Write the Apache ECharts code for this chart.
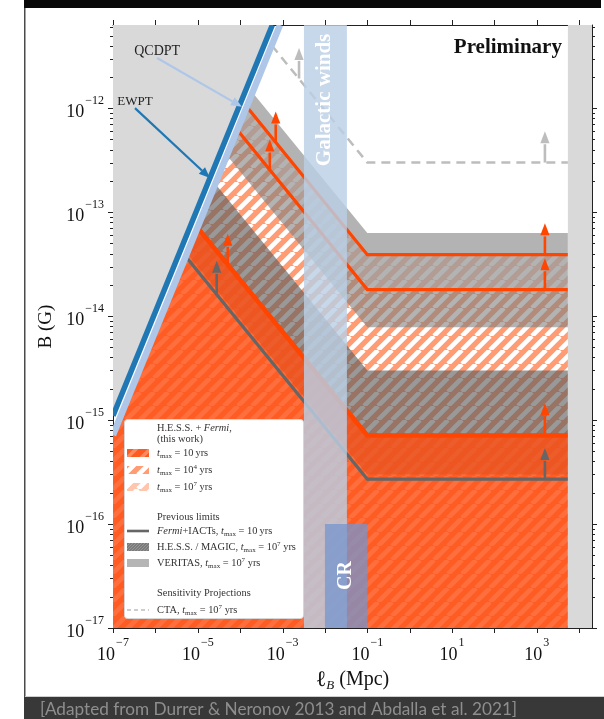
<!DOCTYPE html>
<html>
<head>
<meta charset="utf-8">
<script src="https://cdn.jsdelivr.net/npm/echarts@6/dist/echarts.min.js"></script>
<style>
  html, body { margin: 0; padding: 0; background: #fff; }
  #chart { width: 604px; height: 719px; }
</style>
</head>
<body>
<div id="chart"></div>
<script>
// ---- axis ranges: coherence length ℓ_B (Mpc) and field strength B (G) ----
const lRange = [1e-7, 2.0e4];
const bRange = [1e-17, 6.31e-12];
const xLabelExponents = [-7, -5, -3, -1, 1, 3];
const xTickExponents = [-7, -6, -5, -4, -3, -2, -1, 0, 1, 2, 3, 4];
const yTickExponents = [-17, -16, -15, -14, -13, -12];

// ---- phase-transition bounds (B ∝ ℓ) ----
const ewpt = [[1e-7, 1.1e-15], [5.75e-4, 6.31e-12]];
const qcdpt = [[1e-7, 7.2e-16], [8.7e-4, 6.31e-12]];

// ---- lower limits, [ℓ, B] vertices: start on QCDPT bound, knee at 0.1 Mpc, end at Hubble band ----
const hfTmax1e7 = [[1.43e-4, 1.03e-12], [0.1, 3.9e-14], [5.4e3, 3.9e-14]];
const hfTmax1e4 = [[8.5e-5, 6.2e-13], [0.1, 1.8e-14], [5.4e3, 1.8e-14]];
const hfTmax10 = [[9.9e-6, 7.1e-14], [0.1, 7.1e-16], [5.4e3, 7.1e-16]];
const fermiIacts = [[5.2e-6, 3.75e-14], [0.1, 2.7e-16], [5.4e3, 2.7e-16]];
const ctaProjection = [[5.6e-4, 4.0e-12], [0.1, 3.0e-13], [5.4e3, 3.0e-13]];

// ---- previous exclusion bands ----
const veritasUpper = [[2.0e-4, 1.4e-12], [0.1, 6.3e-14], [5.4e3, 6.3e-14]];
const veritasLower = [[4.9e-5, 3.5e-13], [0.1, 7.8e-15], [5.4e3, 7.8e-15]];
const hessMagicUpper = [[2.6e-5, 1.87e-13], [0.1, 3.0e-15], [5.4e3, 3.0e-15]];
const hessMagicLower = [[5.6e-6, 4.0e-14], [0.1, 3.0e-16], [5.4e3, 3.0e-16]];

// closing path of the excluded areas below a limit (bottom edge, then up the QCDPT bound)
const floorPath = [[5.4e3, 1e-17], [1e-7, 1e-17], [1e-7, 7.2e-16]];

// ---- vertical bands ----
const galacticWinds = [3.2e-3, 3.3e-2];
const crScale = [1e-2, 1e-1];
const crField = [1e-17, 1e-16];
const hubbleBand = [5.4e3, 2.0e4];

// ---- upward arrows: [ℓ, B at limit, B at tip] ----
const arrows1e7 = [[6.9e-4, 4.8e-13, 9.3e-13], [1.55e3, 3.9e-14, 7.8e-14]];
const arrows1e4 = [[5.0e-4, 2.6e-13, 5.0e-13], [1.55e3, 1.8e-14, 3.6e-14]];
const arrows10 = [[5.1e-5, 3.2e-14, 6.2e-14], [1.55e3, 7.1e-16, 1.45e-15]];
const arrowsFermi = [[2.8e-5, 1.6e-14, 3.4e-14], [1.55e3, 2.7e-16, 5.4e-16]];
const arrowsCta = [[2.45e-3, 1.93e-12, 3.8e-12], [1.55e3, 3.0e-13, 6.0e-13]];

// ---- pointers from the phase-transition labels ----
const qcdptPointer = [[1.1e-6, 3.04e-12], [1.1e-4, 1.03e-12]];
const ewptPointer = [[3.3e-7, 1.0e-12], [1.94e-5, 2.13e-13]];

const annotationTexts = ['QCDPT', 'EWPT', 'Preliminary', 'Galactic winds', 'CR'];
const annotationAnchors = [[1.1e-6, 3.55e-12], [3.3e-7, 1.17e-12], [3.9e3, 3.8e-12], [1.0e-2, 1.2e-12], [3.16e-2, 3.2e-17]];

// ---------------------------------------------------------------------------
const SERIF = "'Liberation Serif', 'DejaVu Serif', serif";
const lg = Math.log10;
const toAxis = p => [lg(p[0]), lg(p[1])];
const isInt = v => Math.abs(v - Math.round(v)) < 1e-9;
const expText = n => (n < 0 ? '\u2212' + (-n) : String(n));

function stripes(base, stripe, period, width) {
  const c = document.createElement('canvas');
  c.width = c.height = period;
  const g = c.getContext('2d');
  g.fillStyle = base;
  g.fillRect(0, 0, period, period);
  g.strokeStyle = stripe;
  g.lineWidth = width;
  g.beginPath();
  for (let k = -1; k <= 1; k++) {
    g.moveTo(k * period, period);
    g.lineTo(k * period + period, 0);
  }
  g.stroke();
  return { image: c, repeat: 'repeat' };
}
function speckle(base, dot) {
  const c = document.createElement('canvas');
  c.width = c.height = 3;
  const g = c.getContext('2d');
  g.fillStyle = base; g.fillRect(0, 0, 3, 3);
  g.fillStyle = dot; g.fillRect(0, 0, 1, 1); g.fillRect(2, 1, 1, 1); g.fillRect(1, 2, 1, 1);
  return { image: c, repeat: 'repeat' };
}

const fill1e7 = stripes('#ffc6ae', '#ffffff', 14, 4.6);
const fill1e4 = stripes('#ff9c74', '#ffffff', 14, 4.6);
const fill10Key = stripes('#ff5a20', '#ff8a5e', 14, 3.4);
const fillHessKey = speckle('#7b7b7b', '#969696');

const ORANGE = '#ff4500';

function base(extra) {
  return Object.assign({
    type: 'custom', coordinateSystem: 'cartesian2d', xAxisIndex: 0, yAxisIndex: 0,
    silent: true, animation: false, clip: true
  }, extra);
}
function areaSeries(pts, style) {
  const data = pts.map(toAxis);
  return base({
    data,
    renderItem: (params, api) => params.dataIndex !== 0 ? null : {
      type: 'polygon', shape: { points: data.map(d => api.coord(d)) }, style
    }
  });
}
function lineSeries(pts, style) {
  const data = pts.map(toAxis);
  return base({
    data,
    renderItem: (params, api) => params.dataIndex !== 0 ? null : {
      type: 'polyline', shape: { points: data.map(d => api.coord(d)) },
      style: Object.assign({ fill: null, lineCap: 'butt', lineJoin: 'miter' }, style)
    }
  });
}
function rectPts(ls, bs) {
  return [[ls[0], bs[0]], [ls[1], bs[0]], [ls[1], bs[1]], [ls[0], bs[1]]];
}
function arrowSeries(items, color, width) {
  const data = items.map(a => [lg(a[0]), lg(a[1]), lg(a[2])]);
  return base({
    data, clip: false,
    encode: { x: 0, y: [1, 2] },
    renderItem: (params, api) => {
      const from = api.coord([api.value(0), api.value(1)]);
      const tip = api.coord([api.value(0), api.value(2)]);
      const neck = tip[1] + 12;
      return {
        type: 'group', children: [
          { type: 'line', shape: { x1: from[0], y1: from[1], x2: tip[0], y2: neck + 1 },
            style: { stroke: color, lineWidth: width } },
          { type: 'polygon', shape: { points: [[tip[0], tip[1]], [tip[0] - 4.6, neck], [tip[0] + 4.6, neck]] },
            style: { fill: color } }
        ]
      };
    }
  });
}
function pointerSeries(pts, color) {
  const data = pts.map(toAxis);
  return base({
    data, clip: false,
    renderItem: (params, api) => {
      if (params.dataIndex !== 0) return null;
      const a = api.coord(data[0]), b = api.coord(data[1]);
      const dx = b[0] - a[0], dy = b[1] - a[1], len = Math.hypot(dx, dy);
      const ux = dx / len, uy = dy / len, h = 11, w = 4.6;
      const nx = b[0] - ux * h, ny = b[1] - uy * h;
      return {
        type: 'group', children: [
          { type: 'line', shape: { x1: a[0], y1: a[1], x2: nx, y2: ny }, style: { stroke: color, lineWidth: 2.2 } },
          { type: 'polygon', shape: { points: [b, [nx - uy * w, ny + ux * w], [nx + uy * w, ny - ux * w]] },
            style: { fill: color } }
        ]
      };
    }
  });
}

const annotationStyles = [
  { font: `14px ${SERIF}`, fill: '#222', align: 'center', rot: 0 },
  { font: `13px ${SERIF}`, fill: '#222', align: 'center', rot: 0 },
  { font: `bold 21px ${SERIF}`, fill: '#111', align: 'right', rot: 0 },
  { font: `bold 21px ${SERIF}`, fill: '#ffffff', align: 'center', rot: Math.PI / 2 },
  { font: `bold 20px ${SERIF}`, fill: '#ffffff', align: 'center', rot: Math.PI / 2 }
];
const annotationSeries = base({
  data: annotationAnchors.map(toAxis), clip: false,
  renderItem: (params, api) => {
    const i = params.dataIndex, s = annotationStyles[i];
    const p = api.coord([api.value(0), api.value(1)]);
    return {
      type: 'text', x: p[0], y: p[1], rotation: s.rot,
      style: { text: annotationTexts[i], font: s.font, fill: s.fill, align: s.align, verticalAlign: 'middle' }
    };
  }
});

// axis ticks, drawn outward on all four sides
const yMinorTicks = [];
yTickExponents.forEach(n => {
  for (let k = 2; k <= 9; k++) {
    const v = n + lg(k);
    if (v <= lg(bRange[1])) yMinorTicks.push(v);
  }
});
const xLo = lg(lRange[0]), xHi = lg(lRange[1]), yLo = lg(bRange[0]), yHi = lg(bRange[1]);
const tickStyle = { stroke: '#222', lineWidth: 1 };
const xTickSeries = base({
  data: xTickExponents.map(e => [e, yLo]), clip: false, z: 5,
  renderItem: (params, api) => {
    const b = api.coord([api.value(0), yLo]), t = api.coord([api.value(0), yHi]);
    const x = Math.round(b[0]) + 0.5;
    return { type: 'group', children: [
      { type: 'line', shape: { x1: x, y1: b[1], x2: x, y2: b[1] + 5 }, style: tickStyle },
      { type: 'line', shape: { x1: x, y1: t[1], x2: x, y2: t[1] - 5 }, style: tickStyle }
    ] };
  }
});
const yTicks = yTickExponents.map(e => [xLo, e, 5]).concat(yMinorTicks.map(v => [xLo, v, 3]));
const yTickSeries = base({
  data: yTicks, clip: false, z: 5,
  renderItem: (params, api) => {
    const l = api.coord([xLo, api.value(1)]), r = api.coord([xHi, api.value(1)]);
    const y = Math.round(l[1]) + 0.5, len = api.value(2);
    return { type: 'group', children: [
      { type: 'line', shape: { x1: l[0], y1: y, x2: l[0] - len, y2: y }, style: tickStyle },
      { type: 'line', shape: { x1: r[0], y1: y, x2: r[0] + len, y2: y }, style: tickStyle }
    ] };
  }
});

const expRich = {
  b: { fontFamily: SERIF, fontSize: 18, color: '#111', lineHeight: 27, verticalAlign: 'bottom' },
  s: { fontFamily: SERIF, fontSize: 12, color: '#111', lineHeight: 12, verticalAlign: 'top', padding: [0, 0, 0, 1] }
};
const frameLine = { show: true, onZero: false, lineStyle: { color: '#222', width: 1 } };

const series = [
  areaSeries([ewpt[0], ewpt[1], [lRange[0], bRange[1]]], { fill: '#d9d9d9' }),
  areaSeries(hfTmax1e7.concat(floorPath), { fill: fill1e7 }),
  areaSeries(hfTmax1e4.concat(floorPath), { fill: fill1e4 }),
  areaSeries(veritasUpper.concat(veritasLower.slice().reverse()), { fill: 'rgba(128,128,128,0.6)' }),
  areaSeries(hessMagicUpper.concat(hessMagicLower.slice().reverse()), { fill: 'rgba(90,90,90,0.62)' }),
  areaSeries(hfTmax10.concat(floorPath), { fill: 'rgba(255,78,18,0.82)' }),
  lineSeries(ctaProjection, { stroke: '#bdbdbd', lineWidth: 2.5, lineDash: [9, 6] }),
  lineSeries(fermiIacts, { stroke: '#666666', lineWidth: 3.2 }),
  lineSeries(hfTmax1e7, { stroke: ORANGE, lineWidth: 3.2 }),
  lineSeries(hfTmax1e4, { stroke: ORANGE, lineWidth: 3.2 }),
  lineSeries(hfTmax10, { stroke: ORANGE, lineWidth: 4.6 }),
  arrowSeries(arrowsCta, '#bdbdbd', 2.6),
  arrowSeries(arrowsFermi, '#666666', 2.6),
  arrowSeries(arrows1e7, ORANGE, 2.6),
  arrowSeries(arrows1e4, ORANGE, 2.6),
  arrowSeries(arrows10, ORANGE, 2.6),
  areaSeries(rectPts(galacticWinds, bRange), { fill: 'rgba(186,208,229,0.82)' }),
  areaSeries(rectPts(crScale, crField), { fill: 'rgba(118,148,205,0.76)' }),
  areaSeries(rectPts(hubbleBand, bRange), { fill: '#d9d9d9' }),
  lineSeries(qcdpt, { stroke: '#aec7e8', lineWidth: 6.5 }),
  lineSeries(ewpt, { stroke: '#1f77b4', lineWidth: 5.5 }),
  pointerSeries(qcdptPointer, '#aec7e8'),
  pointerSeries(ewptPointer, '#1f77b4'),
  annotationSeries,
  xTickSeries,
  yTickSeries
];

// legend panel
const KEY_Z = 100;
const KEY_SIZE = 10.4;
const KEY = `${KEY_SIZE}px ${SERIF}`;
const keyRich = {
  r: { fontFamily: SERIF, fontSize: KEY_SIZE, fill: '#333', lineHeight: 13 },
  i: { fontFamily: SERIF, fontSize: KEY_SIZE, fontStyle: 'italic', fill: '#333', lineHeight: 13 },
  sub: { fontFamily: SERIF, fontSize: 7, fill: '#333', lineHeight: 8, verticalAlign: 'bottom' },
  sup: { fontFamily: SERIF, fontSize: 7, fill: '#333', lineHeight: 8, verticalAlign: 'top' }
};
const keyRows = [
  { y: 9, text: '{r|H.E.S.S. + }{i|Fermi}{r|,}' },
  { y: 20, text: '{r|(this work)}' },
  { y: 34, text: '{i|t}{sub|max}{r| = 10\u2009yrs}', swatch: fill10Key },
  { y: 51, text: '{i|t}{sub|max}{r| = 10}{sup|4}{r| yrs}', swatch: fill1e4 },
  { y: 68, text: '{i|t}{sub|max}{r| = 10}{sup|7}{r| yrs}', swatch: fill1e7 },
  { y: 98, text: '{r|Previous limits}' },
  { y: 112, text: '{i|Fermi}{r|+IACTs, }{i|t}{sub|max}{r| = 10\u2009yrs}', line: { stroke: '#666', lineWidth: 2.6 } },
  { y: 128, text: '{r|H.E.S.S. / MAGIC, }{i|t}{sub|max}{r| = 10}{sup|7}{r| yrs}', swatch: fillHessKey },
  { y: 144, text: '{r|VERITAS, }{i|t}{sub|max}{r| = 10}{sup|7}{r| yrs}', swatch: '#b5b5b5' },
  { y: 174, text: '{r|Sensitivity Projections}' },
  { y: 191, text: '{r|CTA, }{i|t}{sub|max}{r| = 10}{sup|7}{r| yrs}', line: { stroke: '#bdbdbd', lineWidth: 1.4, lineDash: [4, 3] } }
];
const keyChildren = [{
  type: 'rect', z: KEY_Z, shape: { x: 0.5, y: 0.5, width: 179, height: 199, r: 3 },
  style: { fill: '#ffffff', stroke: '#d6d6d6', lineWidth: 1 }
}];
keyRows.forEach(row => {
  keyChildren.push({
    type: 'text', z: KEY_Z + 1, x: 33, y: row.y,
    style: { text: row.text, rich: keyRich, font: KEY, fill: '#333', verticalAlign: 'middle', align: 'left' }
  });
  if (row.swatch) {
    keyChildren.push({ type: 'rect', z: KEY_Z + 1, shape: { x: 3, y: row.y - 4, width: 22, height: 8 }, style: { fill: row.swatch } });
  }
  if (row.line) {
    keyChildren.push({ type: 'line', z: KEY_Z + 1, shape: { x1: 3, y1: row.y, x2: 25, y2: row.y }, style: row.line });
  }
});

const option = {
  animation: false,
  backgroundColor: '#ffffff',
  grid: { left: 113, right: 12, top: 25, bottom: 91 },
  xAxis: [
    {
      type: 'value', min: xLo, max: xHi, interval: 1, position: 'bottom',
      axisLine: frameLine, axisTick: { show: false }, splitLine: { show: false },
      axisLabel: {
        margin: 9,
        formatter: v => (isInt(v) && xLabelExponents.includes(Math.round(v))) ? `{b|10}{s|${expText(Math.round(v))}}` : '',
        rich: expRich
      },
      name: '{i|\u2113}{sub|B}{r| (Mpc)}', nameLocation: 'middle', nameGap: 35,
      nameTextStyle: {
        rich: {
          i: { fontFamily: SERIF, fontSize: 22, color: '#111', lineHeight: 24 },
          sub: { fontFamily: SERIF, fontSize: 13, fontStyle: 'italic', color: '#111', lineHeight: 14, verticalAlign: 'bottom' },
          r: { fontFamily: SERIF, fontSize: 20, color: '#111', lineHeight: 24 }
        }
      }
    },
    {
      type: 'value', min: xLo, max: xHi, interval: 1, position: 'top',
      axisLine: frameLine, axisTick: { show: false }, axisLabel: { show: false }, splitLine: { show: false }
    }
  ],
  yAxis: [
    {
      type: 'value', min: yLo, max: yHi, interval: 1, position: 'left',
      axisLine: frameLine, axisTick: { show: false }, splitLine: { show: false },
      axisLabel: {
        margin: 9,
        formatter: v => isInt(v) ? `{b|10}{s|${expText(Math.round(v))}}` : '',
        rich: expRich
      },
      name: 'B (G)', nameLocation: 'middle', nameGap: 26, nameRotate: 90,
      nameTextStyle: { fontFamily: SERIF, fontSize: 19, color: '#111' }
    },
    {
      type: 'value', min: yLo, max: yHi, interval: 1, position: 'right',
      axisLine: frameLine, axisTick: { show: false }, axisLabel: { show: false }, splitLine: { show: false }
    }
  ],
  series,
  graphic: [
    { type: 'rect', z: 100, shape: { x: 24, y: 0, width: 577, height: 8 }, style: { fill: '#080808' } },
    { type: 'rect', z: 100, shape: { x: 24, y: 8, width: 1.5, height: 689 }, style: { fill: '#4a4a4a' } },
    { type: 'rect', z: 100, shape: { x: 24, y: 697, width: 580, height: 22 }, style: { fill: '#383838' } },
    { type: 'rect', z: 100, shape: { x: 25, y: 696, width: 579, height: 1 }, style: { fill: '#cfcfcf' } },
    {
      type: 'text', z: 101, x: 40, y: 709,
      style: { text: '[Adapted from Durrer & Neronov 2013 and Abdalla et al. 2021]', font: '17.2px Lato, Inter, sans-serif',
        fill: '#8e8e8e', verticalAlign: 'middle' }
    },
    { type: 'group', x: 124, y: 419, z: KEY_Z, children: keyChildren }
  ]
};

const chart = echarts.init(document.getElementById('chart'), null, { renderer: 'canvas', width: 604, height: 719 });
chart.setOption(option);
</script>
</body>
</html>
